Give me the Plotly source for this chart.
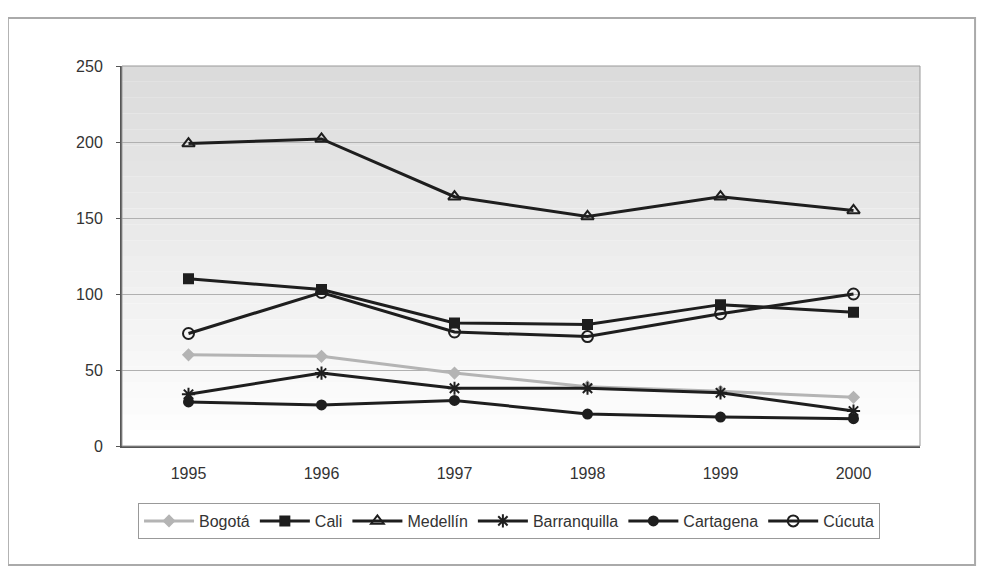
import plotly.graph_objects as go

years = ["1995", "1996", "1997", "1998", "1999", "2000"]
bogota = [60, 59, 48, 39, 36, 32]
cali = [110, 103, 81, 80, 93, 88]
medellin = [199, 202, 164, 151, 164, 155]
barranquilla = [34, 48, 38, 38, 35, 23]
cartagena = [29, 27, 30, 21, 19, 18]
cucuta = [74, 101, 75, 72, 87, 100]
y_ticks = [0, 50, 100, 150, 200, 250]

series = [
    ("Bogotá", bogota, "#b4b4b4", "diamond", 8),
    ("Cali", cali, "#1e1e1e", "square", 9),
    ("Medellín", medellin, "#1e1e1e", "triangle-up-open", 11),
    ("Barranquilla", barranquilla, "#1e1e1e", "asterisk-open", 11),
    ("Cartagena", cartagena, "#1e1e1e", "circle", 9),
    ("Cúcuta", cucuta, "#1e1e1e", "circle-open", 11),
]

fig = go.Figure()
for name, vals, col, sym, size in series:
    fig.add_trace(go.Scatter(
        x=years, y=vals, name=name, mode="lines+markers",
        line=dict(color=col, width=3),
        marker=dict(symbol=sym, size=size, color=col,
                    line=dict(color=col, width=2)),
    ))

# gradient background bands (gray at top fading to white)
shapes = []
n = 24
for i in range(n):
    t = i / n
    g = int(255 - (255 - 218) * t)
    shapes.append(dict(type="rect", xref="x domain", yref="y domain",
                       x0=0, x1=1, y0=i / n, y1=(i + 1) / n,
                       fillcolor=f"rgb({g},{g},{g})", line=dict(width=0),
                       layer="below"))
# plot frame
shapes.append(dict(type="rect", xref="x domain", yref="y domain",
                   x0=0, x1=1, y0=0, y1=1,
                   line=dict(color="#999999", width=1), layer="above"))
# outer border
shapes.append(dict(type="rect", xref="paper", yref="paper",
                   x0=-0.143, x1=1.069, y0=-0.313, y1=1.126,
                   line=dict(color="#aaaaaa", width=2)))

fig.update_layout(
    width=985, height=575,
    margin=dict(l=114, r=73, t=58, b=137),
    paper_bgcolor="white", plot_bgcolor="white",
    font=dict(family="Liberation Sans, Arial, sans-serif", size=16, color="#333333"),
    shapes=shapes,
    showlegend=True,
    legend=dict(orientation="h", x=0.485, xanchor="center", y=-0.15, yanchor="top",
                bordercolor="#999999", borderwidth=1, bgcolor="white",
                font=dict(size=16, color="#333333"), itemwidth=50,
                tracegroupgap=0),
    xaxis=dict(showgrid=False, showline=True, linecolor="#555555", linewidth=2,
               ticks="", tickfont=dict(size=16), range=[-0.5, 5.5],
               ticklabelstandoff=12),
    yaxis=dict(range=[0, 250], tickvals=y_ticks, showgrid=True,
               gridcolor="#b0b0b0", gridwidth=1, showline=True,
               linecolor="#555555", linewidth=2, ticks="outside",
               ticklen=4, tickcolor="#555555", tickfont=dict(size=16),
               ticklabelstandoff=10, zeroline=False),
)

fig.write_html("out.html")
